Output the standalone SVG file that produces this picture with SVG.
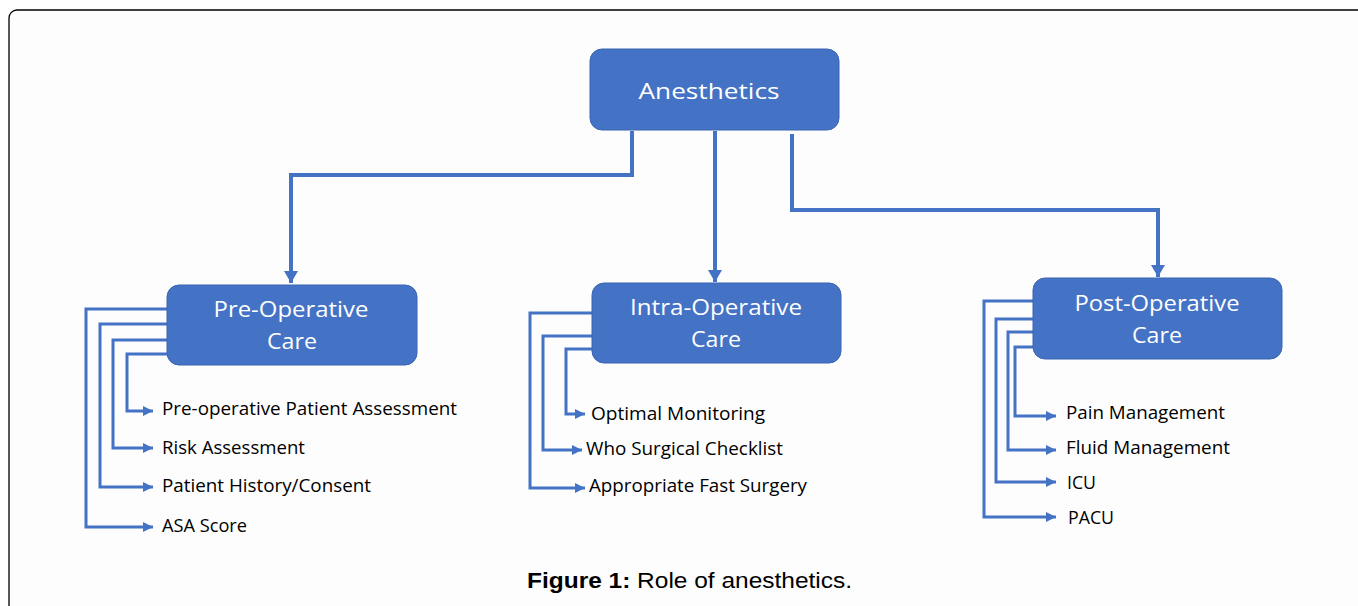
<svg xmlns="http://www.w3.org/2000/svg" width="1358" height="606" viewBox="0 0 1358 606">
  <style>
    .box { fill: #4472C4; stroke: #3A65B4; stroke-width: 1; }
    .btxt { font-family: "Open Sans", "Liberation Sans", sans-serif; font-size: 22px; fill: #ffffff; text-anchor: middle; }
    .ltxt { font-family: "Open Sans", "Liberation Sans", sans-serif; font-size: 18px; fill: #000000; }
    .main { fill: none; stroke: #4472C4; stroke-width: 4; }
    .sub { fill: none; stroke: #4472C4; stroke-width: 3; }
    .cap { font-family: "Liberation Sans", Arial, sans-serif; font-size: 22px; fill: #000000; }
  </style>
  <defs>
    <marker id="bigArrow" markerUnits="userSpaceOnUse" markerWidth="12" markerHeight="14" viewBox="0 0 12 14" refX="12" refY="7" orient="auto">
      <path d="M0,0 L12,7 L0,14 Z" fill="#4472C4"/>
    </marker>
    <marker id="smallArrow" markerUnits="userSpaceOnUse" markerWidth="10" markerHeight="10" viewBox="0 0 10 10" refX="10" refY="5" orient="auto">
      <path d="M0,0 L10,5 L0,10 Z" fill="#4472C4"/>
    </marker>
  </defs>

  <rect width="1358" height="606" fill="#ffffff"/>
  <!-- outer frame -->
  <rect x="9" y="10" width="1400" height="660" rx="8" fill="#fdfdfd" stroke="#000000" stroke-width="1.3"/>

  <!-- connectors -->
  <g id="connectors">
    <polyline class="main" points="632,131 632,175 291,175 291,283" marker-end="url(#bigArrow)"/>
    <polyline class="main" points="715,131 715,282" marker-end="url(#bigArrow)"/>
    <polyline class="main" points="792,134 792,210 1158,210 1158,277" marker-end="url(#bigArrow)"/>

    <polyline class="sub" points="167,309 86,309 86,527 153,527" marker-end="url(#smallArrow)"/>
    <polyline class="sub" points="167,324 100,324 100,487 153,487" marker-end="url(#smallArrow)"/>
    <polyline class="sub" points="167,340 113,340 113,448 153,448" marker-end="url(#smallArrow)"/>
    <polyline class="sub" points="167,354 127,354 127,411 153,411" marker-end="url(#smallArrow)"/>

    <polyline class="sub" points="592,313 530,313 530,488 585,488" marker-end="url(#smallArrow)"/>
    <polyline class="sub" points="592,336 543,336 543,450 582,450" marker-end="url(#smallArrow)"/>
    <polyline class="sub" points="592,349 566,349 566,414 585,414" marker-end="url(#smallArrow)"/>

    <polyline class="sub" points="1033,301 984,301 984,517 1056,517" marker-end="url(#smallArrow)"/>
    <polyline class="sub" points="1033,319 996,319 996,482 1056,482" marker-end="url(#smallArrow)"/>
    <polyline class="sub" points="1033,332 1008,332 1008,450 1056,450" marker-end="url(#smallArrow)"/>
    <polyline class="sub" points="1033,347 1015,347 1015,416 1056,416" marker-end="url(#smallArrow)"/>
  </g>

  <g id="anesthetics">
    <rect class="box" x="590" y="49" width="249" height="81" rx="12"/>
    <text class="btxt" x="709" y="99" textLength="141" lengthAdjust="spacingAndGlyphs">Anesthetics</text>
  </g>

  <g id="pre-operative">
    <rect class="box" x="167" y="285" width="250" height="80" rx="12"/>
    <text class="btxt" x="291" y="317" textLength="155" lengthAdjust="spacingAndGlyphs">Pre-Operative</text>
    <text class="btxt" x="292" y="349" textLength="50" lengthAdjust="spacingAndGlyphs">Care</text>
  </g>

  <g id="intra-operative">
    <rect class="box" x="592" y="283" width="249" height="80" rx="12"/>
    <text class="btxt" x="716" y="315" textLength="172" lengthAdjust="spacingAndGlyphs">Intra-Operative</text>
    <text class="btxt" x="716" y="347" textLength="50" lengthAdjust="spacingAndGlyphs">Care</text>
  </g>

  <g id="post-operative">
    <rect class="box" x="1033" y="278" width="249" height="81" rx="12"/>
    <text class="btxt" x="1157" y="311" textLength="165" lengthAdjust="spacingAndGlyphs">Post-Operative</text>
    <text class="btxt" x="1157" y="343" textLength="50" lengthAdjust="spacingAndGlyphs">Care</text>
  </g>

  <g id="pre-items">
    <text class="ltxt" x="162" y="415" textLength="295" lengthAdjust="spacingAndGlyphs">Pre-operative Patient Assessment</text>
    <text class="ltxt" x="162" y="454" textLength="143" lengthAdjust="spacingAndGlyphs">Risk Assessment</text>
    <text class="ltxt" x="162" y="492" textLength="209" lengthAdjust="spacingAndGlyphs">Patient History/Consent</text>
    <text class="ltxt" x="162" y="532" textLength="85" lengthAdjust="spacingAndGlyphs">ASA Score</text>
  </g>

  <g id="intra-items">
    <text class="ltxt" x="591" y="420" textLength="174" lengthAdjust="spacingAndGlyphs">Optimal Monitoring</text>
    <text class="ltxt" x="586" y="455" textLength="197" lengthAdjust="spacingAndGlyphs">Who Surgical Checklist</text>
    <text class="ltxt" x="589" y="492" textLength="218" lengthAdjust="spacingAndGlyphs">Appropriate Fast Surgery</text>
  </g>

  <g id="post-items">
    <text class="ltxt" x="1066" y="419" textLength="159" lengthAdjust="spacingAndGlyphs">Pain Management</text>
    <text class="ltxt" x="1066" y="454" textLength="164" lengthAdjust="spacingAndGlyphs">Fluid Management</text>
    <text class="ltxt" x="1067" y="489" textLength="29" lengthAdjust="spacingAndGlyphs">ICU</text>
    <text class="ltxt" x="1068" y="524" textLength="46" lengthAdjust="spacingAndGlyphs">PACU</text>
  </g>

  <text class="cap" x="527" y="588" textLength="325" lengthAdjust="spacingAndGlyphs"><tspan font-weight="bold">Figure 1:</tspan> Role of anesthetics.</text>
</svg>
